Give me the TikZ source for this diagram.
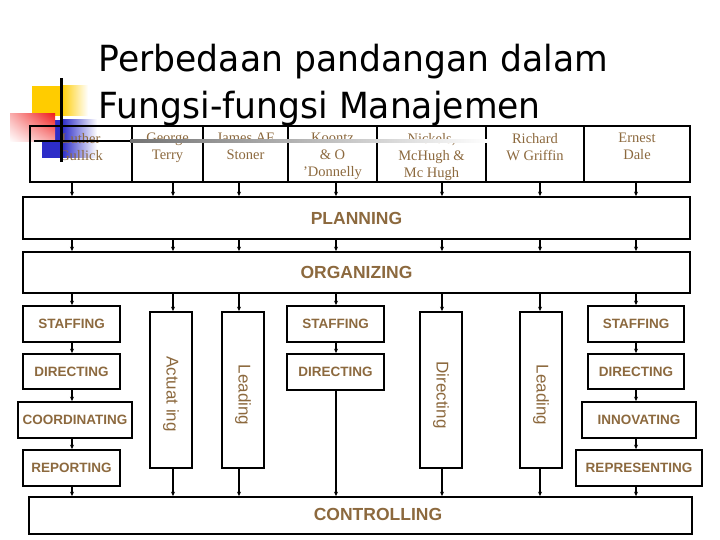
\documentclass[tikz,border=0pt]{standalone}
\usepackage{fontspec}
\setmainfont{Liberation Serif}
\newfontfamily\lsans{Liberation Sans}
\newfontfamily\titlefont[FakeStretch=0.96]{DejaVu Sans}
\usetikzlibrary{arrows.meta,shadings}
\definecolor{brn}{RGB}{140,105,62}
\definecolor{ylw}{RGB}{255,204,0}
\definecolor{redd}{RGB}{240,30,30}
\definecolor{blu}{RGB}{45,45,200}
\begin{document}
\begin{tikzpicture}[x=1pt,y=-1pt,
  box/.style={draw, line width=1.8pt, inner sep=0pt},
  lab/.style={font=\lsans\bfseries\fontsize{13.5}{16}\selectfont, text=brn},
  big/.style={font=\lsans\bfseries\fontsize{17.5}{20}\selectfont, text=brn},
  vlab/.style={font=\lsans\fontsize{17}{20}\selectfont, text=brn, rotate=-90, inner sep=0pt},
  cell/.style={font=\fontsize{14.5}{17}\selectfont, text=brn, align=center, inner sep=0pt, anchor=north},
  ttl/.style={font=\titlefont\fontsize{36}{42}\selectfont, anchor=base west, inner sep=0pt},
  arr/.style={-{Stealth[length=4.5pt,width=4pt]}, line width=1.3pt}]
\useasboundingbox (0,0) rectangle (720,540);

% decoration squares
\fill[blu] (42,120) rectangle (62,158);
\shade[left color=blu, right color=white] (62,120) rectangle (97,158);
\fill[ylw] (32,86) rectangle (61,116);
\shade[left color=ylw, right color=white] (61,86) rectangle (88,116);
\shade[upper left=redd!35!white, upper right=redd, lower left=white, lower right=redd!40!white] (10,114) rectangle (55,142);

% title
\node[ttl] (t1) at (98.5,72) {Perbedaan pandangan dalam};
\node[ttl] (t2) at (98.5,118.5) {Fungsi-fungsi Manajemen};

% column coordinates
\coordinate (k1) at (72,0);
\coordinate (k2) at (173,0);
\coordinate (k3) at (239,0);
\coordinate (k4) at (336,0);
\coordinate (k5) at (442,0);
\coordinate (k6) at (540,0);
\coordinate (k7) at (636,0);

% top table
\node[box, minimum width=102pt, minimum height=56pt] (c1) at (81,154) {};
\node[box, minimum width=71pt, minimum height=56pt] (c2) at (167.5,154) {};
\node[box, minimum width=85pt, minimum height=56pt] (c3) at (245.5,154) {};
\node[box, minimum width=89pt, minimum height=56pt] (c4) at (332.5,154) {};
\node[box, minimum width=109pt, minimum height=56pt] (c5) at (431.5,154) {};
\node[box, minimum width=98pt, minimum height=56pt] (c6) at (535,154) {};
\node[box, minimum width=106pt, minimum height=56pt] (c7) at (637,154) {};
\node[cell] (n1) at (81,133) {Luther\\Gullick};
\node[cell] (n2) at (167.5,133) {George\\Terry};
\node[cell] (n3) at (245.5,133) {James AF\\Stoner};
\node[cell] (n4) at (332.5,133) {Koontz\\\& O\\’Donnelly};
\node[cell] (n5) at (431.5,133) {Nickels,\\McHugh \&\\Mc Hugh};
\node[cell] (n6) at (535,133) {Richard\\W Griffin};
\node[cell] (n7) at (637,133) {Ernest\\Dale};

% planning / organizing
\node[box, big, minimum width=667pt, minimum height=42pt] (plan) at (356.5,218) {PLANNING};
\node[box, big, minimum width=667pt, minimum height=41pt] (org) at (356.5,272.5) {ORGANIZING};

% row 3 - left column
\node[box, lab, minimum width=97pt, minimum height=36pt] (s1) at (71.5,324) {STAFFING};
\node[box, lab, minimum width=97pt, minimum height=35pt] (d1) at (71.5,371.5) {DIRECTING};
\node[box, lab, minimum width=114pt, minimum height=36pt] (co) at (75,420) {COORDINATING};
\node[box, lab, minimum width=97pt, minimum height=36pt] (rep) at (71.5,468) {REPORTING};
% vertical boxes
\node[box, minimum width=42pt, minimum height=156pt] (act) at (171,390) {};
\node[vlab] (actt) at (171,394) {Actuat ing};
\node[box, minimum width=42pt, minimum height=156pt] (lead1) at (243,390) {};
\node[vlab] (lead1t) at (243,395) {Leading};
\node[box, minimum width=42pt, minimum height=156pt] (dirv) at (441,390) {};
\node[vlab] (dirvt) at (441,395) {Directing};
\node[box, minimum width=42pt, minimum height=156pt] (lead2) at (541,390) {};
\node[vlab] (lead2t) at (541,395) {Leading};
% middle column
\node[box, lab, minimum width=97pt, minimum height=36pt] (s2) at (335.5,324) {STAFFING};
\node[box, lab, minimum width=97pt, minimum height=36pt] (d2) at (335.5,372) {DIRECTING};
% right column
\node[box, lab, minimum width=96pt, minimum height=36pt] (s3) at (636,324) {STAFFING};
\node[box, lab, minimum width=96pt, minimum height=35pt] (d3) at (636,371.5) {DIRECTING};
\node[box, lab, minimum width=114pt, minimum height=36pt] (inn) at (639,420) {INNOVATING};
\node[box, lab, minimum width=126pt, minimum height=36pt] (repr) at (639,468) {REPRESENTING};

% controlling
\node[box, minimum width=663pt, minimum height=37pt] (ctrl) at (360.5,515.5) {};
\node[big] (ctrlt) at (378,514) {CONTROLLING};

% arrows top table -> planning -> organizing
\foreach \c/\k in {c1/k1,c2/k2,c3/k3,c4/k4,c5/k5,c6/k6,c7/k7}{
  \draw[arr] (\c.south -| \k) -- (plan.north -| \k);
  \draw[arr] (plan.south -| \k) -- (org.north -| \k);
}
% organizing -> row 3
\draw[arr] (org.south -| k1) -- (s1.north -| k1);
\draw[arr] (org.south -| k2) -- (act.north -| k2);
\draw[arr] (org.south -| k3) -- (lead1.north -| k3);
\draw[arr] (org.south -| k4) -- (s2.north -| k4);
\draw[arr] (org.south -| k5) -- (dirv.north -| k5);
\draw[arr] (org.south -| k6) -- (lead2.north -| k6);
\draw[arr] (org.south -| k7) -- (s3.north -| k7);
% chains
\draw[arr] (s1.south -| k1) -- (d1.north -| k1);
\draw[arr] (d1.south -| k1) -- (co.north -| k1);
\draw[arr] (co.south -| k1) -- (rep.north -| k1);
\draw[arr] (rep.south -| k1) -- (ctrl.north -| k1);
\draw[arr] (act.south -| k2) -- (ctrl.north -| k2);
\draw[arr] (lead1.south -| k3) -- (ctrl.north -| k3);
\draw[arr] (s2.south -| k4) -- (d2.north -| k4);
\draw[arr] (d2.south -| k4) -- (ctrl.north -| k4);
\draw[arr] (dirv.south -| k5) -- (ctrl.north -| k5);
\draw[arr] (lead2.south -| k6) -- (ctrl.north -| k6);
\draw[arr] (s3.south -| k7) -- (d3.north -| k7);
\draw[arr] (d3.south -| k7) -- (inn.north -| k7);
\draw[arr] (inn.south -| k7) -- (repr.north -| k7);
\draw[arr] (repr.south -| k7) -- (ctrl.north -| k7);

% decoration lines
\fill[black] (60,78) rectangle (62.5,162);
\fill[black] (34,140) rectangle (130,142.5);
\shade[left color=black!55, right color=white] (130,140) rectangle (490,142.5);
\end{tikzpicture}
\end{document}
